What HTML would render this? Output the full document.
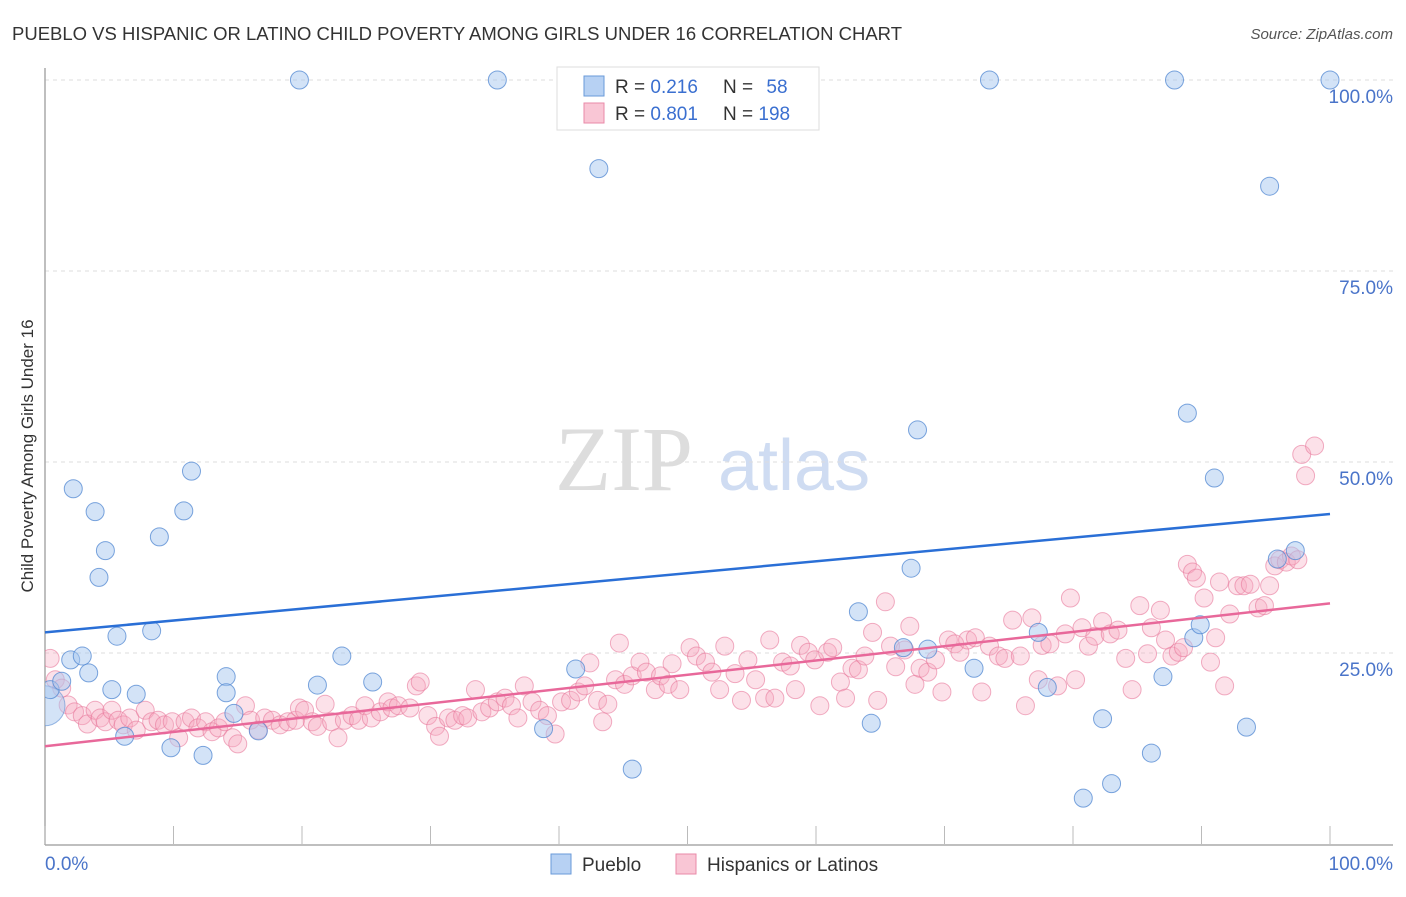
<!DOCTYPE html>
<html><head><meta charset="utf-8"><style>
body{margin:0;background:#fff;font-family:"Liberation Sans",sans-serif}
svg text{font-family:"Liberation Sans",sans-serif}
</style></head><body>
<svg id="chart" width="1406" height="892" xmlns="http://www.w3.org/2000/svg">
<defs><clipPath id="plotclip"><rect x="45" y="0" width="1400" height="892"/></clipPath></defs>
<text x="12" y="40" font-size="18" fill="#333" textLength="890" lengthAdjust="spacingAndGlyphs">PUEBLO VS HISPANIC OR LATINO CHILD POVERTY AMONG GIRLS UNDER 16 CORRELATION CHART</text>
<text x="1393" y="39" font-size="15" fill="#555" font-style="italic" text-anchor="end">Source: ZipAtlas.com</text>
<g>
<text x="555" y="490" font-size="92" fill="#ddd" font-family="Liberation Serif" style="font-family:'Liberation Serif',serif">ZIP</text>
<text x="718" y="490" font-size="72" fill="#cfdcf2">atlas</text>
</g>
<g id="grid"></g>
<g id="axes"></g>
<g id="pts-pink" clip-path="url(#plotclip)"></g>
<g id="pts-blue" clip-path="url(#plotclip)"></g>
<g id="lines"></g>
<text transform="translate(33,456) rotate(-90)" font-size="17" fill="#333" text-anchor="middle">Child Poverty Among Girls Under 16</text>
<g>
<rect x="557" y="67" width="262" height="63" fill="#fff" stroke="#ddd"/>
<rect x="584" y="76" width="20" height="20" fill="#b7d1f3" stroke="#6a9ad8"/>
<rect x="584" y="103" width="20" height="20" fill="#f9c6d5" stroke="#e98aa8"/>
<text x="615" y="93" font-size="19" fill="#333">R = <tspan fill="#3a6fd0">0.216</tspan></text>
<text x="723" y="93" font-size="19" fill="#333">N = <tspan fill="#3a6fd0" dx="8">58</tspan></text>
<text x="615" y="120" font-size="19" fill="#333">R = <tspan fill="#3a6fd0">0.801</tspan></text>
<text x="723" y="120" font-size="19" fill="#333">N = <tspan fill="#3a6fd0">198</tspan></text>
</g>
<g>
<rect x="551" y="854" width="20" height="20" fill="#b7d1f3" stroke="#6a9ad8"/>
<text x="582" y="871" font-size="19" fill="#333">Pueblo</text>
<rect x="676" y="854" width="20" height="20" fill="#f9c6d5" stroke="#e98aa8"/>
<text x="707" y="871" font-size="19" fill="#333">Hispanics or Latinos</text>
</g>
</svg>
<script>
const blueX=[0.4,1.3,2.0,2.2,2.9,3.4,3.9,4.2,4.7,5.2,5.6,6.2,7.1,8.3,8.9,9.8,10.8,11.4,12.3,14.1,14.1,14.7,16.6,19.8,21.2,23.1,25.5,35.2,38.8,41.3,43.1,45.7,63.3,64.3,66.8,67.4,67.9,68.7,72.3,73.5,77.3,78.0,80.8,82.3,83.0,86.1,87.0,87.9,88.9,89.4,89.9,91.0,93.5,95.3,95.9,97.3,100];
const blueY=[20.2,21.3,24.1,46.5,24.6,22.4,43.5,34.9,38.4,20.2,27.2,14.1,19.6,27.9,40.2,12.6,43.6,48.8,11.6,21.9,19.8,17.1,14.8,100,20.8,24.6,21.2,100,15.1,22.9,88.4,9.8,30.4,15.8,25.7,36.1,54.2,25.5,23.0,100,27.7,20.5,6.0,16.4,7.9,11.9,21.9,100,56.4,27.0,28.7,47.9,15.3,86.1,37.3,38.4,100];
const pinkX=[0.4,0.8,1.3,1.8,2.3,2.9,3.3,3.9,4.3,4.7,5.2,5.7,6.1,6.6,7.1,7.8,8.3,8.8,9.3,9.9,10.4,10.9,11.4,11.9,12.5,13.0,13.5,14.0,14.6,15.0,15.6,16.0,16.6,17.1,17.7,18.3,18.9,19.5,19.8,20.2,20.8,21.2,21.8,22.3,22.8,23.3,23.9,24.4,24.9,25.4,26.1,26.7,27.0,27.5,28.4,28.9,29.2,29.8,30.4,30.7,31.4,31.9,32.5,32.9,33.5,34.0,34.6,35.2,35.8,36.3,36.8,37.3,37.9,38.5,39.1,39.7,40.2,40.9,41.5,42.0,42.4,43.0,43.4,43.8,44.4,44.7,45.1,45.7,46.3,46.8,47.5,47.9,48.5,48.8,49.4,50.2,50.7,51.4,51.9,52.5,52.9,53.7,54.2,54.7,55.3,56.0,56.4,56.8,57.4,58.0,58.4,58.8,59.4,59.9,60.3,60.9,61.3,61.9,62.3,62.8,63.3,63.8,64.4,64.8,65.4,65.8,66.2,66.9,67.3,67.7,68.1,68.7,69.3,69.8,70.3,70.8,71.2,71.8,72.4,72.9,73.5,74.2,74.7,75.3,75.9,76.3,76.8,77.3,77.6,78.2,78.8,79.4,79.8,80.2,80.7,81.2,81.7,82.3,82.9,83.5,84.1,84.6,85.2,85.8,86.1,86.8,87.2,87.7,88.2,88.6,88.9,89.3,89.6,90.2,90.7,91.1,91.4,91.8,92.2,92.8,93.3,93.8,94.4,94.9,95.3,95.7,96.1,96.6,97.0,97.5,97.8,98.1,98.8];
const pinkY=[24.3,21.5,20.4,18.2,17.3,16.8,15.7,17.5,16.5,16.0,17.5,16.2,15.6,16.5,14.9,17.5,16.0,16.2,15.6,16.0,13.9,16.0,16.5,15.2,16.0,14.7,15.2,16.0,13.9,13.1,18.1,16.2,14.9,16.5,16.2,15.6,16.0,16.2,17.8,17.5,16.0,15.4,18.3,16.0,13.9,16.2,16.8,16.2,18.1,16.5,17.3,18.6,17.8,18.1,17.8,20.7,21.2,16.8,15.4,14.1,16.5,16.2,16.8,16.5,20.2,17.3,17.8,18.6,19.1,18.1,16.5,20.7,18.6,17.5,16.8,14.4,18.6,18.8,19.9,20.7,23.7,18.8,16.0,18.3,21.5,26.3,20.9,22.0,23.8,22.5,20.2,22.0,20.9,23.6,20.2,25.7,24.6,23.8,22.5,20.2,25.9,22.3,18.8,24.1,21.5,19.1,26.7,19.1,23.8,23.3,20.2,26.0,25.1,24.1,18.1,25.1,25.7,21.2,19.1,23.0,22.8,24.6,27.7,18.8,31.7,25.9,23.2,25.4,28.5,20.9,23.0,22.5,24.1,19.9,26.7,26.2,25.1,26.7,27.0,19.9,25.9,24.6,24.3,29.3,24.6,18.1,29.6,21.5,26.0,26.2,20.7,27.5,32.2,21.5,28.3,25.9,27.2,29.1,27.5,28.0,24.3,20.2,31.2,24.9,28.3,30.6,26.7,24.6,25.1,25.7,36.6,35.6,34.8,32.2,23.8,27.0,34.3,20.7,30.1,33.8,33.8,34.0,30.9,31.2,33.8,36.4,37.2,36.9,37.7,37.2,51.0,48.2,52.1];
const yTicks=[25,50,75,100];
const yTickLabels=["25.0%","50.0%","75.0%","100.0%"];
const xTicks=[0,10,20,30,40,50,60,70,80,90,100];
const blueTrend=[27.7,43.2];
const pinkTrend=[12.8,31.5];
const NS="http://www.w3.org/2000/svg";
const X0=45,X1=1330,Y0=844,Y100=80;
const sx=v=>X0+(X1-X0)*v/100;
const sy=v=>Y0-(Y0-Y100)*v/100;
function mk(tag,attrs,parent){const e=document.createElementNS(NS,tag);for(const k in attrs)e.setAttribute(k,attrs[k]);parent.appendChild(e);return e;}
const grid=document.getElementById('grid'),axes=document.getElementById('axes');
yTicks.forEach((t,i)=>{
 const l=mk('line',{x1:X0,x2:1393,y1:sy(t),y2:sy(t),stroke:'#ddd','stroke-dasharray':'4,4'},grid);
 
 
 const tx=mk('text',{x:1393,y:sy(t)+23,'font-size':19,fill:'#4a74c9','text-anchor':'end'},axes);
 tx.textContent=yTickLabels[i];
 
 
});
const xa=mk('line',{x1:X0,x2:1393,y1:Y0+1,y2:Y0+1,stroke:'#aaa','stroke-width':1.5},axes);


const ya=mk('line',{x1:X0,x2:X0,y1:68,y2:Y0+1,stroke:'#aaa','stroke-width':1.5},axes);


xTicks.forEach(t=>{
 const l=mk('line',{x1:sx(t),x2:sx(t),y1:826,y2:Y0,stroke:'#bbb'},axes);
 
 
});
const xl0=mk('text',{x:X0,y:870,'font-size':19,fill:'#4a74c9'},axes);xl0.textContent='0.0%';


const xl1=mk('text',{x:1393,y:870,'font-size':19,fill:'#4a74c9','text-anchor':'end'},axes);xl1.textContent='100.0%';


const gp=document.getElementById('pts-pink');
pinkX.forEach((x,i)=>{
 const c=mk('circle',{cx:sx(x),cy:sy(pinkY[i]),r:9,fill:'rgba(246,168,192,0.35)',stroke:'rgba(232,120,155,0.6)','stroke-width':1},gp);
 
 
});
const gb=document.getElementById('pts-blue');
const big=mk('circle',{cx:sx(0),cy:sy(18.1),r:20,fill:'rgba(168,200,240,0.5)',stroke:'rgba(90,140,210,0.6)'},gb);


blueX.forEach((x,i)=>{
 const c=mk('circle',{cx:sx(x),cy:sy(blueY[i]),r:9,fill:'rgba(168,200,240,0.5)',stroke:'rgba(80,135,210,0.75)','stroke-width':1},gb);
 
 
});
const gl=document.getElementById('lines');
const bl=mk('line',{x1:sx(0),x2:sx(100),y1:sy(blueTrend[0]),y2:sy(blueTrend[1]),stroke:'#2a6fd6','stroke-width':2.5},gl);


const pl=mk('line',{x1:sx(0),x2:sx(100),y1:sy(pinkTrend[0]),y2:sy(pinkTrend[1]),stroke:'#e8689a','stroke-width':2.5},gl);


</script>
</body></html>
